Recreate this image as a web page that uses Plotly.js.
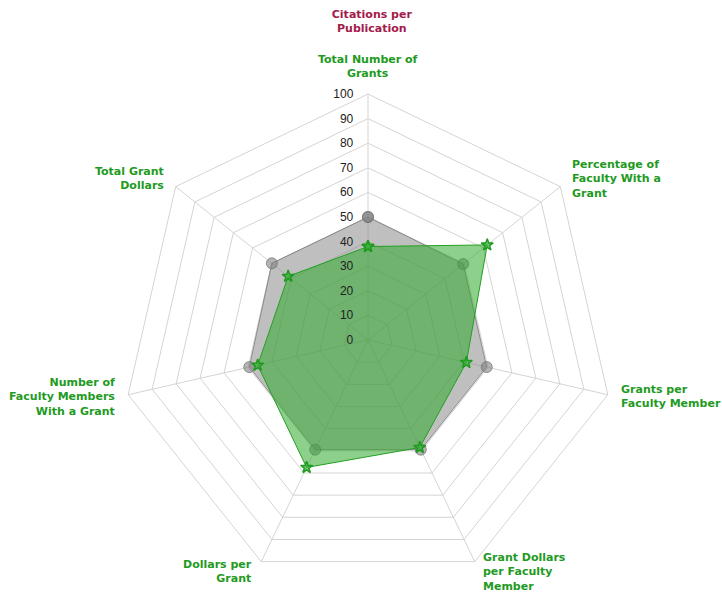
<!DOCTYPE html>
<html>
<head>
<meta charset="utf-8">
<script src="https://cdn.plot.ly/plotly-3.0.1.min.js"></script>
<style>html,body{margin:0;padding:0;background:#fff;}#chart{width:722px;height:593px;}</style>
</head>
<body>
<div id="chart"></div>
<script>
const categories = [
  "Total Number of<br>Grants",
  "Percentage of<br>Faculty With a<br>Grant",
  "Grants per<br>Faculty Member",
  "Grant Dollars<br>per Faculty<br>Member",
  "Dollars per<br>Grant",
  "Number of<br>Faculty Members<br>With a Grant",
  "Total Grant<br>Dollars"
];
const baselineValues = [50, 49.5, 49.5, 49.5, 49.5, 49.5, 50];
const groupValues = [38, 62, 41, 48.5, 57.5, 46, 41.5];
const radialTicks = [0, 10, 20, 30, 40, 50, 60, 70, 80, 90, 100];
const chartTitle = "Citations per<br>Publication";

function closed(a) { return a.concat([a[0]]); }

const W = 722, H = 593;
const cx = 368, cy = 340, R = 246;

const labelPlacement = [
  {dx: 0, dy: -12, xa: "center", ya: "bottom", al: "center"},
  {dx: 10, dy: -8, xa: "left", ya: "middle", al: "left"},
  {dx: 11, dy: 2, xa: "left", ya: "middle", al: "left"},
  {dx: 6, dy: -13, xa: "left", ya: "top", al: "left"},
  {dx: -7, dy: -6, xa: "right", ya: "top", al: "right"},
  {dx: -11, dy: 2, xa: "right", ya: "middle", al: "right"},
  {dx: -10, dy: -8, xa: "right", ya: "middle", al: "right"}
];

const annotations = categories.map((c, k) => {
  const a = k * 2 * Math.PI / categories.length;
  const vx = cx + R * Math.sin(a), vy = cy - R * Math.cos(a);
  const p = labelPlacement[k];
  return {
    xref: "paper", yref: "paper",
    x: (vx + p.dx) / W, y: 1 - (vy + p.dy) / H,
    xanchor: p.xa, yanchor: p.ya, align: p.al,
    text: c, showarrow: false,
    font: {family: "DejaVu Sans", size: 11, color: "#229a22", weight: "bold"}
  };
});

const traces = [
  {
    type: "scatterpolar",
    r: closed(baselineValues),
    theta: closed(categories),
    mode: "lines+markers",
    fill: "toself",
    fillcolor: "rgba(128,128,128,0.5)",
    line: {color: "rgba(120,120,120,0.8)", width: 1},
    marker: {symbol: "circle", size: 11, color: "rgba(130,130,130,0.6)", line: {color: "rgba(110,110,110,0.7)", width: 1}},
    hoverinfo: "r+theta",
    showlegend: false
  },
  {
    type: "scatterpolar",
    r: closed(groupValues),
    theta: closed(categories),
    mode: "lines+markers",
    fill: "toself",
    fillcolor: "rgba(45,170,45,0.55)",
    line: {color: "#22a022", width: 1},
    marker: {symbol: "star", size: 9, color: "rgba(60,180,60,0.7)", line: {color: "#1e9a1e", width: 1.5}},
    hoverinfo: "r+theta",
    showlegend: false
  }
];

const layout = {
  width: W,
  height: H,
  margin: {l: 0, r: 0, t: 0, b: 0},
  paper_bgcolor: "#ffffff",
  showlegend: false,
  title: {
    text: chartTitle,
    x: 0.515, xanchor: "center",
    y: 0.970, yanchor: "top",
    font: {family: "DejaVu Sans", size: 11, color: "#a31a4c", weight: "bold"}
  },
  annotations: annotations,
  polar: {
    domain: {x: [(cx - R) / W, (cx + R) / W], y: [1 - (cy + R) / H, 1 - (cy - R) / H]},
    bgcolor: "rgba(0,0,0,0)",
    gridshape: "linear",
    radialaxis: {
      range: [0, 100],
      tickvals: radialTicks,
      ticktext: radialTicks.map(String),
      angle: 90,
      tickangle: 90,
      side: "counterclockwise",
      showline: false,
      ticks: "outside",
      ticklen: 10,
      tickcolor: "rgba(0,0,0,0)",
      gridcolor: "#d4d4d4",
      gridwidth: 1,
      tickfont: {family: "Liberation Sans, Arial", size: 12, color: "#222"}
    },
    angularaxis: {
      direction: "clockwise",
      rotation: 90,
      linecolor: "#d4d4d4",
      gridcolor: "#d4d4d4",
      ticks: "",
      showticklabels: false
    }
  }
};

Plotly.newPlot("chart", traces, layout, {displayModeBar: false, staticPlot: true});
</script>
</body>
</html>
